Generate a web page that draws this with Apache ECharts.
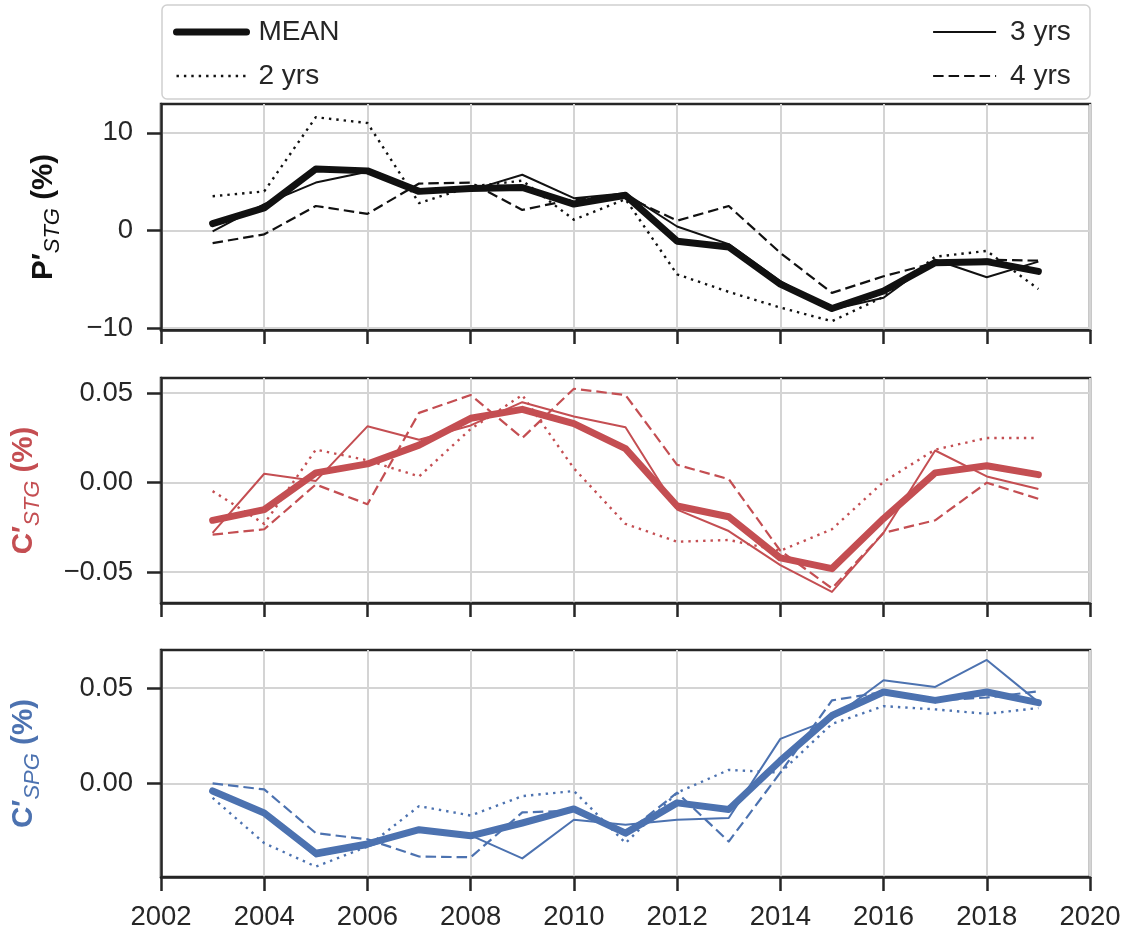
<!DOCTYPE html>
<html>
<head>
<meta charset="utf-8">
<script src="https://cdn.jsdelivr.net/npm/echarts@6/dist/echarts.min.js"></script>
<style>
  html, body { margin: 0; padding: 0; background: #ffffff; }
  #chart { width: 1129px; height: 933px; }
</style>
</head>
<body>
<div id="chart"></div>
<script>
// ---- data ----------------------------------------------------------------
const years = [2003, 2004, 2005, 2006, 2007, 2008, 2009, 2010, 2011,
               2012, 2013, 2014, 2015, 2016, 2017, 2018, 2019];

// P'_STG (%)
const pMean = [0.7, 2.3, 6.3, 6.1, 4.0, 4.3, 4.4, 2.7, 3.6, -1.1, -1.7, -5.5, -8.0, -6.2, -3.3, -3.2, -4.2];
const p2yrs = [3.5, 4.0, 11.6, 11.0, 2.8, 4.5, 5.1, 1.1, 3.2, -4.5, -6.3, -7.9, -9.3, -6.8, -2.7, -2.1, -6.0];
const p3yrs = [-0.1, 2.7, 4.9, 6.0, 4.1, 4.1, 5.7, 3.3, 3.8, 0.4, -1.4, -5.2, -8.1, -6.9, -3.0, -4.8, -3.2];
const p4yrs = [-1.3, -0.4, 2.5, 1.7, 4.8, 4.9, 2.1, 3.2, 3.5, 1.0, 2.5, -2.3, -6.4, -4.7, -3.3, -3.0, -3.1];

// C'_STG (%)
const cMean = [-0.021, -0.015, 0.0055, 0.0105, 0.021, 0.036, 0.041, 0.033, 0.019, -0.013, -0.019, -0.042, -0.048, -0.020, 0.0055, 0.0095, 0.0045];
const c2yrs = [-0.0047, -0.023, 0.0185, 0.0125, 0.0035, 0.030, 0.049, 0.008, -0.023, -0.033, -0.032, -0.038, -0.026, 0.0005, 0.0185, 0.025, 0.025];
const c3yrs = [-0.028, 0.005, 0.001, 0.0315, 0.024, 0.032, 0.045, 0.037, 0.031, -0.015, -0.027, -0.046, -0.061, -0.028, 0.018, 0.0035, -0.0035];
const c4yrs = [-0.029, -0.026, -0.001, -0.012, 0.039, 0.049, 0.025, 0.0525, 0.049, 0.010, 0.002, -0.038, -0.059, -0.028, -0.021, 0.0, -0.009];

// C'_SPG (%)
const sMean = [-0.0038, -0.0153, -0.0363, -0.0314, -0.024, -0.0272, -0.0205, -0.0132, -0.0258, -0.010, -0.0135, 0.012, 0.0356, 0.0479, 0.0435, 0.0479, 0.0423];
const s2yrs = [-0.0074, -0.031, -0.0433, -0.0328, -0.0117, -0.0166, -0.0065, -0.0038, -0.031, -0.0047, 0.0072, 0.0058, 0.0312, 0.0405, 0.0388, 0.0365, 0.0395];
const s3yrs = [-0.004, -0.015, -0.038, -0.033, -0.0235, -0.027, -0.039, -0.0188, -0.0214, -0.0188, -0.0179, 0.0234, 0.034, 0.054, 0.0505, 0.0646, 0.0426];
const s4yrs = [0.0002, -0.003, -0.0258, -0.029, -0.038, -0.0384, -0.015, -0.014, -0.026, -0.0047, -0.0302, 0.0058, 0.0435, 0.0479, 0.0435, 0.045, 0.0482];

// tick values
const pTicks = [-10, 0, 10];
const cTicks = [-0.05, 0, 0.05];
const sTicks = [0, 0.05];

// ---- styling ---------------------------------------------------------------
const FONT = "'Liberation Sans', Arial, Helvetica, sans-serif";
const INK = '#262626';
const GRIDC = '#d4d4d4';
const BLACK = '#111111';
const RED = '#C44E52';
const BLUE = '#4C72B0';

const lineLook = {
  'MEAN':  { width: 7,   type: 'solid' },
  '2 yrs': { width: 2.4, type: [2.4, 5] },
  '3 yrs': { width: 2,   type: 'solid' },
  '4 yrs': { width: 2.2, type: [10.5, 5] }
};

const minus = s => s.replace('-', '\u2212');
const fmtInt = v => minus(String(v));
const fmt2 = v => minus(v.toFixed(2));

const panels = [
  { top: 104, height: 226, min: -10.2, max: 12.95, ticks: pTicks, fmt: fmtInt,
    color: BLACK, letter: 'P\u2032', sub: 'STG', gap: 97,
    values: { 'MEAN': pMean, '2 yrs': p2yrs, '3 yrs': p3yrs, '4 yrs': p4yrs } },
  { top: 378, height: 225, min: -0.0672, max: 0.0585, ticks: cTicks, fmt: fmt2,
    color: RED, letter: 'C\u2032', sub: 'STG', gap: 117,
    values: { 'MEAN': cMean, '2 yrs': c2yrs, '3 yrs': c3yrs, '4 yrs': c4yrs } },
  { top: 650, height: 227, min: -0.0487, max: 0.0698, ticks: sTicks, fmt: fmt2,
    color: BLUE, letter: 'C\u2032', sub: 'SPG', gap: 117,
    values: { 'MEAN': sMean, '2 yrs': s2yrs, '3 yrs': s3yrs, '4 yrs': s4yrs } }
];

const grids = [], xAxes = [], yAxes = [], series = [];

panels.forEach((p, i) => {
  grids.push({
    left: 161, width: 929, top: p.top, height: p.height,
    show: true, borderColor: INK, borderWidth: 2.5, backgroundColor: '#ffffff'
  });
  xAxes.push({
    type: 'value', gridIndex: i, min: 2002, max: 2020, interval: 2,
    axisLine: { show: true, onZero: false, lineStyle: { color: INK, width: 2.5 } },
    axisTick: { show: true, length: 14, lineStyle: { color: INK, width: 2.5 } },
    axisLabel: {
      show: i === panels.length - 1, margin: 26,
      fontFamily: FONT, fontSize: 27.5, color: INK,
      formatter: v => String(v)
    },
    splitLine: { show: true, lineStyle: { color: GRIDC, width: 2 } }
  });
  yAxes.push({
    type: 'value', gridIndex: i, min: p.min, max: p.max,
    axisLine: { show: true, onZero: false, lineStyle: { color: INK, width: 2.5 } },
    axisTick: { show: true, length: 14, customValues: p.ticks, lineStyle: { color: INK, width: 2.5 } },
    axisLabel: {
      customValues: p.ticks, margin: 28,
      fontFamily: FONT, fontSize: 27.5, color: INK, formatter: p.fmt
    },
    splitLine: { show: true, lineStyle: { color: GRIDC, width: 2 } },
    name: '{m|' + p.letter + '}{s|' + p.sub + '}{m| (%)}',
    nameLocation: 'middle', nameRotate: 90, nameGap: p.gap,
    nameTextStyle: {
      rich: {
        m: { fontFamily: FONT, fontSize: 29.5, fontWeight: 'bold', color: p.color },
        s: { fontFamily: FONT, fontSize: 22, fontStyle: 'italic', fontWeight: 'normal',
             color: p.color, padding: [18, 0, 0, 0] }
      }
    }
  });
  // thin lines first, MEAN on top
  ['2 yrs', '3 yrs', '4 yrs', 'MEAN'].forEach(name => {
    const look = lineLook[name];
    series.push({
      type: 'line', name: name, xAxisIndex: i, yAxisIndex: i,
      data: years.map((y, k) => [y, p.values[name][k]]),
      symbol: 'none', silent: true,
      lineStyle: { color: p.color, width: look.width, type: look.type,
                   cap: name === 'MEAN' ? 'round' : 'butt', join: 'round' },
      itemStyle: { color: p.color },
      z: name === 'MEAN' ? 4 : 3
    });
  });
});

const legendText = { fontFamily: FONT, fontSize: 28, color: INK, lineHeight: 30 };
const legendItem = name => ({
  name: name,
  lineStyle: { width: lineLook[name].width, color: BLACK, type: lineLook[name].type,
               cap: name === 'MEAN' ? 'round' : 'butt' },
  itemStyle: { opacity: 0, borderWidth: 0 }
});

const option = {
  animation: false,
  backgroundColor: '#ffffff',
  grid: grids,
  xAxis: xAxes,
  yAxis: yAxes,
  series: series,
  legend: [
    { left: 168, top: 12, orient: 'vertical', itemWidth: 70, itemHeight: 14, itemGap: 14,
      data: [legendItem('MEAN'), legendItem('2 yrs')],
      textStyle: Object.assign({ padding: [0, 0, 0, 7] }, legendText),
      selectedMode: false },
    { left: 927, top: 12, orient: 'vertical', itemWidth: 63, itemHeight: 14, itemGap: 14,
      data: [legendItem('3 yrs'), legendItem('4 yrs')],
      textStyle: Object.assign({ padding: [0, 0, 0, 9] }, legendText),
      selectedMode: false }
  ],
  graphic: [{
    type: 'rect', z: -10, silent: true,
    shape: { x: 162, y: 5, width: 928, height: 94, r: 5 },
    style: { fill: '#ffffff', stroke: '#d0d0d0', lineWidth: 1.5 }
  }]
};

const chart = echarts.init(document.getElementById('chart'), null, { renderer: 'canvas' });
chart.setOption(option);
</script>
</body>
</html>
